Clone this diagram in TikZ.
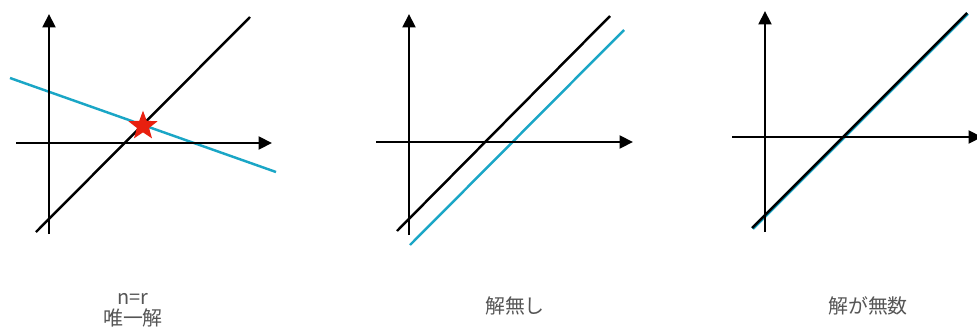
\documentclass[tikz,border=0pt]{standalone}
\usepackage{fontspec}
\usepackage{tikz}
\usetikzlibrary{arrows.meta,positioning,shapes.geometric}
\newfontfamily\cjkfont{Noto Sans CJK JP}
\definecolor{ink}{HTML}{000000}
\definecolor{linecyan}{HTML}{1AA6C6}
\definecolor{starred}{HTML}{E8200F}
\definecolor{labelgray}{HTML}{555555}
\tikzset{
  axisarr/.style={-{Triangle[length=0.40cm,width=0.38cm]},draw=ink,line width=2.5pt},
  blackline/.style={draw=ink,line width=2.1pt},
  cyanline/.style={draw=linecyan,line width=2.1pt},
  caption/.style={font=\cjkfont\fontsize{17}{18}\selectfont,text=labelgray,align=center,inner sep=0pt},
  mark star/.style={star,star points=5,star point ratio=2.4,fill=starred,draw=none,
                    minimum size=0.92cm,inner sep=0pt}
}
\begin{document}
\begin{tikzpicture}[x=0.03cm,y=-0.03cm]
  \useasboundingbox[fill=white] (0,0) rectangle (977,329);
  % panel 1: one solution
  \coordinate (xa1) at (16,143);  \coordinate (xb1) at (272,143);
  \coordinate (ya1) at (49,234);  \coordinate (yb1) at (49,14);
  \coordinate (ka1) at (36,232);  \coordinate (kb1) at (250,17);
  \coordinate (ca1) at (10,78);   \coordinate (cb1) at (276,172);
  \draw[cyanline] (ca1) -- (cb1);
  \draw[blackline] (ka1) -- (kb1);
  \draw[axisarr] (xa1) -- (xb1);
  \draw[axisarr] (ya1) -- (yb1);
  \node[mark star] (hit) at (143,126) {};
  \node[caption] (cap1) at (133,310) {n=r\\唯一解};
  % panel 2: no solution
  \coordinate (xa2) at (376,142); \coordinate (xb2) at (633,142);
  \coordinate (ya2) at (409,235); \coordinate (yb2) at (409,14);
  \coordinate (ka2) at (397,231); \coordinate (kb2) at (610,16);
  \coordinate (ca2) at (410,245); \coordinate (cb2) at (624,30);
  \draw[cyanline] (ca2) -- (cb2);
  \draw[blackline] (ka2) -- (kb2);
  \draw[axisarr] (xa2) -- (xb2);
  \draw[axisarr] (ya2) -- (yb2);
  \node[caption] (cap2) at (515,306) {解無し};
  % panel 3: infinitely many solutions
  \coordinate (xa3) at (732,137); \coordinate (xb3) at (982,137);
  \coordinate (ya3) at (765,232); \coordinate (yb3) at (765,11);
  \coordinate (ka3) at (752,228); \coordinate (kb3) at (967,13);
  \draw[cyanline,line width=3pt] ([xshift=0.5pt,yshift=-0.5pt]ka3) -- ([xshift=0.5pt,yshift=-0.5pt]kb3);
  \draw[blackline] (ka3) -- (kb3);
  \draw[axisarr] (xa3) -- (xb3);
  \draw[axisarr] (ya3) -- (yb3);
  \node[caption] (cap3) at (868,306) {解が無数};
\end{tikzpicture}
\end{document}
